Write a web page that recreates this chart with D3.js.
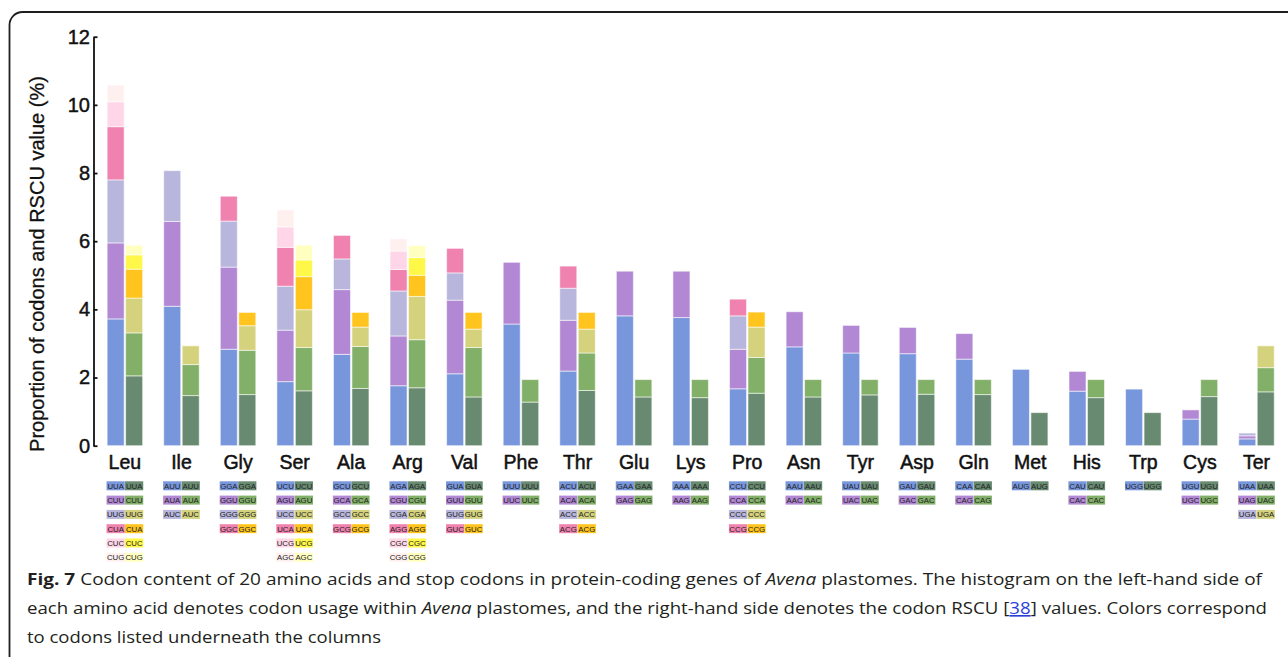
<!DOCTYPE html>
<html>
<head>
<meta charset="utf-8">
<script src="https://cdn.jsdelivr.net/npm/d3@7"></script>
<style>
  html, body { margin: 0; padding: 0; background: #fff; }
  svg { display: block; }
</style>
</head>
<body>
<svg id="chart" width="1288" height="657"></svg>
<script>
// Amino acids (plus stop codons) along the x axis
const aminoAcids = ["Leu","Ile","Gly","Ser","Ala","Arg","Val","Phe","Thr","Glu","Lys",
                    "Pro","Asn","Tyr","Asp","Gln","Met","His","Trp","Cys","Ter"];

// Codons of each amino acid, bottom segment first
const codonSets = [
  ["UUA","CUU","UUG","CUA","CUC","CUG"],
  ["AUU","AUA","AUC"],
  ["GGA","GGU","GGG","GGC"],
  ["UCU","AGU","UCC","UCA","UCG","AGC"],
  ["GCU","GCA","GCC","GCG"],
  ["AGA","CGU","CGA","AGG","CGC","CGG"],
  ["GUA","GUU","GUG","GUC"],
  ["UUU","UUC"],
  ["ACU","ACA","ACC","ACG"],
  ["GAA","GAG"],
  ["AAA","AAG"],
  ["CCU","CCA","CCC","CCG"],
  ["AAU","AAC"],
  ["UAU","UAC"],
  ["GAU","GAC"],
  ["CAA","CAG"],
  ["AUG"],
  ["CAU","CAC"],
  ["UGG"],
  ["UGU","UGC"],
  ["UAA","UAG","UGA"]
];

// Codon usage (% of all codons), one value per codon
const usageValues = [
  [3.72, 2.23, 1.85, 1.56, 0.73, 0.49],
  [4.09, 2.49, 1.49],
  [2.83, 2.41, 1.35, 0.73],
  [1.88, 1.51, 1.29, 1.14, 0.60, 0.50],
  [2.68, 1.90, 0.90, 0.69],
  [1.76, 1.46, 1.32, 0.63, 0.54, 0.36],
  [2.11, 2.16, 0.80, 0.72],
  [3.57, 1.81],
  [2.19, 1.49, 0.94, 0.65],
  [3.81, 1.31],
  [3.76, 1.36],
  [1.67, 1.16, 0.98, 0.49],
  [2.90, 1.03],
  [2.72, 0.81],
  [2.70, 0.77],
  [2.54, 0.75],
  [2.24],
  [1.60, 0.58],
  [1.66],
  [0.78, 0.27],
  [0.20, 0.09, 0.08]
];

// Relative synonymous codon usage, one value per codon
const rscuValues = [
  [2.05, 1.26, 1.02, 0.85, 0.42, 0.28],
  [1.47, 0.91, 0.55],
  [1.50, 1.30, 0.72, 0.39],
  [1.61, 1.27, 1.11, 0.97, 0.49, 0.43],
  [1.68, 1.23, 0.57, 0.43],
  [1.70, 1.41, 1.27, 0.62, 0.52, 0.35],
  [1.43, 1.45, 0.54, 0.49],
  [1.28, 0.66],
  [1.62, 1.10, 0.70, 0.49],
  [1.43, 0.51],
  [1.41, 0.53],
  [1.54, 1.05, 0.89, 0.44],
  [1.43, 0.51],
  [1.49, 0.45],
  [1.51, 0.43],
  [1.50, 0.44],
  [0.97],
  [1.41, 0.53],
  [0.97],
  [1.44, 0.50],
  [1.58, 0.71, 0.64]
];

const yTicks = [0, 2, 4, 6, 8, 10, 12];

// Segment colours by codon rank
const usageColors = ["#7896dc", "#b288d4", "#b8b6dc", "#f082b0", "#ffd6e8", "#fff0f0"];
const rscuColors  = ["#688a70", "#82b068", "#d4d27c", "#ffc41e", "#fff848", "#ffffc0"];

const svg = d3.select("#chart");
const FONT = "'Liberation Sans', Arial, Helvetica, sans-serif";
const INK = "#111";

// Figure frame
svg.append("rect")
  .attr("x", 9.5).attr("y", 12).attr("width", 1300).attr("height", 700)
  .attr("rx", 13).attr("ry", 13)
  .attr("fill", "none").attr("stroke", "#1e1e1e").attr("stroke-width", 1.8);

// Scales
const step = 56.58;
const x = d3.scaleBand()
  .domain(aminoAcids)
  .range([96.6, 96.6 + step * aminoAcids.length])
  .paddingInner(0.3726)
  .paddingOuter(0.1863);

const side = d3.scaleBand()
  .domain(["usage", "rscu"])
  .range([0, x.bandwidth()])
  .paddingInner(0.08);

const y = d3.scaleLinear().domain([0, 12]).range([445.7, 36.7]);

// Y axis
const yAxis = svg.append("g")
  .attr("transform", "translate(93.5,0)")
  .call(d3.axisLeft(y).tickValues(yTicks).tickSize(-4).tickSizeOuter(0).tickPadding(3.5));
yAxis.select(".domain").attr("stroke", INK).attr("stroke-width", 1.8);
yAxis.selectAll(".tick line").attr("stroke", INK).attr("stroke-width", 1.8);
yAxis.selectAll(".tick text")
  .attr("font-family", FONT).attr("font-size", 20).attr("fill", INK)
  .attr("stroke", INK).attr("stroke-width", 0.45);

svg.append("text")
  .attr("transform", "translate(44,264) rotate(-90)")
  .attr("text-anchor", "middle")
  .attr("font-family", FONT).attr("font-size", 20).attr("fill", INK)
  .attr("stroke", INK).attr("stroke-width", 0.3)
  .text("Proportion of codons and RSCU value (%)");

// Stacked bars
function stackSegments(values, colors) {
  const tops = d3.cumsum(values);
  return values.map((v, i) => ({ y0: tops[i] - v, y1: tops[i], color: colors[i] }));
}

const groups = svg.append("g").selectAll("g")
  .data(aminoAcids.map((aa, i) => ({ aa, i })))
  .join("g")
  .attr("transform", d => `translate(${x(d.aa)},0)`);

groups.each(function (d) {
  const g = d3.select(this);
  [["usage", usageValues[d.i], usageColors], ["rscu", rscuValues[d.i], rscuColors]]
    .forEach(([key, vals, cols]) => {
      g.selectAll(`rect.${key}`)
        .data(stackSegments(vals, cols))
        .join("rect")
        .attr("class", key)
        .attr("x", side(key))
        .attr("width", side.bandwidth())
        .attr("y", s => y(s.y1))
        .attr("height", s => y(s.y0) - y(s.y1))
        .attr("fill", s => s.color)
        .attr("stroke", "rgba(255,255,255,0.55)")
        .attr("stroke-width", 1);
    });
});

// Category labels
groups.append("text")
  .attr("x", x.bandwidth() / 2)
  .attr("y", 468.5)
  .attr("text-anchor", "middle")
  .attr("font-family", FONT).attr("font-size", 19.5).attr("fill", INK)
  .attr("stroke", INK).attr("stroke-width", 0.5)
  .text(d => d.aa);

// Codon key under each column
const rowY = i => 485.8 + i * 14.3;
const boxW = side.bandwidth() + 1.2, boxH = 9;
groups.each(function (d) {
  const g = d3.select(this);
  codonSets[d.i].forEach((codon, k) => {
    [["usage", usageColors], ["rscu", rscuColors]].forEach(([key, cols]) => {
      const bx = side(key) + side.bandwidth() / 2;
      g.append("rect")
        .attr("x", bx - boxW / 2).attr("y", rowY(k) - boxH / 2)
        .attr("width", boxW).attr("height", boxH)
        .attr("fill", cols[k]);
      g.append("text")
        .attr("x", bx).attr("y", rowY(k) + 2.8)
        .attr("text-anchor", "middle")
        .attr("font-family", FONT).attr("font-size", 7.8).attr("fill", "#222")
        .text(codon);
    });
  });
});

// Caption
const CAP_FONT = "'Open Sans', 'Noto Sans', sans-serif";
const captionLines = [
  { y: 585, width: 1235, parts: [
      { t: "Fig. 7", w: "bold" },
      { t: " Codon content of 20 amino acids and stop codons in protein-coding genes of " },
      { t: "Avena", s: "italic" },
      { t: " plastomes. The histogram on the left-hand side of" } ] },
  { y: 614, width: 1240, parts: [
      { t: "each amino acid denotes codon usage within " },
      { t: "Avena", s: "italic" },
      { t: " plastomes, and the right-hand side denotes the codon RSCU [" },
      { t: "38", link: true },
      { t: "] values. Colors correspond" } ] },
  { y: 642.7, width: 354, parts: [
      { t: "to codons listed underneath the columns" } ] }
];

captionLines.forEach(line => {
  const txt = svg.append("text")
    .attr("x", 27).attr("y", line.y)
    .attr("font-family", CAP_FONT).attr("font-size", 16.5).attr("fill", "#231f20");
  line.parts.forEach(p => {
    const ts = txt.append("tspan").text(p.t);
    if (p.w) ts.attr("font-weight", p.w);
    if (p.s) ts.attr("font-style", p.s);
    if (p.link) ts.attr("fill", "#2a3fd8").attr("text-decoration", "underline");
  });
  txt.attr("textLength", line.width).attr("lengthAdjust", "spacingAndGlyphs");
});
</script>
</body>
</html>
